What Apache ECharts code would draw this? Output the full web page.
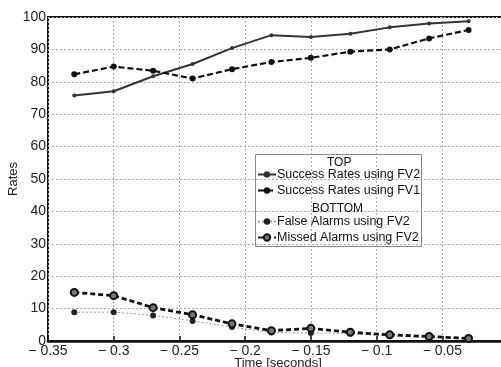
<!DOCTYPE html>
<html>
<head>
<meta charset="utf-8">
<script src="https://cdn.jsdelivr.net/npm/echarts@6/dist/echarts.min.js"></script>
<style>html,body{margin:0;padding:0;background:#fff}#c{width:501px;height:367px}</style>
</head>
<body>
<div id="c"></div>
<script>
var times = [-0.33, -0.30, -0.27, -0.24, -0.21, -0.18, -0.15, -0.12, -0.09, -0.06, -0.03];
var successFV2 = [75.8, 77.1, 81.7, 85.5, 90.4, 94.4, 93.8, 94.8, 96.8, 98.0, 98.7];
var successFV1 = [82.3, 84.7, 83.4, 81.0, 83.9, 86.1, 87.4, 89.3, 90.0, 93.4, 96.0];
var falseAlarmsFV2 = [8.9, 8.9, 7.9, 6.2, 4.3, 2.6, 2.5, 2.3, 1.6, 1.1, 0.6];
var missedAlarmsFV2 = [15.0, 14.0, 10.3, 8.1, 5.3, 3.2, 3.9, 2.7, 1.9, 1.4, 0.8];
var xTickLabels = ['\u2212 0.35', '\u2212 0.3', '\u2212 0.25', '\u2212 0.2', '\u2212 0.15', '\u2212 0.1', '\u2212 0.05', '0'];
var yTickLabels = ['0', '10', '20', '30', '40', '50', '60', '70', '80', '90', '100'];
var seriesNames = ['Success Rates using FV2', 'Success Rates using FV1', 'False Alarms using FV2', 'Missed Alarms using FV2'];

function pairs(ys) { return times.map(function (t, i) { return [t, ys[i]]; }); }

var chart = echarts.init(document.getElementById('c'));
var font = 'Liberation Sans, Arial, sans-serif';
chart.setOption({
  animation: false,
  backgroundColor: '#fff',
  textStyle: { fontFamily: font },
  grid: { left: 48, top: 17, width: 460, height: 324, containLabel: false, outerBoundsMode: 'none', show: true, borderColor: '#111', borderWidth: 2 },
  xAxis: {
    type: 'value', min: -0.35, max: 0, interval: 0.05,
    name: 'Time [seconds]', nameLocation: 'middle', nameGap: 16, nameMoveOverlap: false,
    nameTextStyle: { fontSize: 13, color: '#222', fontFamily: font },
    axisLine: { lineStyle: { color: '#111', width: 2.5 } },
    axisTick: { inside: true, length: 5, lineStyle: { color: '#111', width: 1.5 } },
    axisLabel: {
      fontSize: 14, color: '#222', margin: 3,
      formatter: function (v) { return xTickLabels[Math.round((v + 0.35) / 0.05)]; }
    },
    splitLine: { show: true, lineStyle: { color: '#aaa', type: [2, 2], width: 1 } }
  },
  yAxis: {
    type: 'value', min: 0, max: 100, interval: 10,
    name: 'Rates', nameLocation: 'middle', nameGap: 28, nameRotate: 90, nameMoveOverlap: false,
    nameTextStyle: { fontSize: 13, color: '#222', fontFamily: font },
    axisLine: { lineStyle: { color: '#111', width: 2.5 } },
    axisTick: { show: true, inside: true, length: 4, lineStyle: { color: '#111', width: 1.5 } },
    axisLabel: {
      fontSize: 14, color: '#222', margin: 2,
      formatter: function (v) { return yTickLabels[Math.round(v / 10)]; }
    },
    splitLine: { show: true, lineStyle: { color: '#aaa', type: [2, 2], width: 1 } }
  },
  legend: [
    {
      data: [seriesNames[0], seriesNames[1]], orient: 'vertical', left: 257, top: 168,
      itemWidth: 18, itemHeight: 8, itemGap: 3, padding: 0,
      textStyle: { fontSize: 12.5, color: '#111', fontFamily: font, padding: [0, 0, 0, -4] }
    },
    {
      data: [seriesNames[2], seriesNames[3]], orient: 'vertical', left: 257, top: 215,
      itemWidth: 18, itemHeight: 8, itemGap: 3, padding: 0,
      textStyle: { fontSize: 12.5, color: '#111', fontFamily: font, padding: [0, 0, 0, -4] }
    }
  ],
  graphic: [
    { type: 'rect', left: 255, top: 154, shape: { width: 166, height: 92 }, style: { fill: '#fff', stroke: '#888', lineWidth: 1 }, z: 0, zlevel: 0 },
    { type: 'text', left: 327, top: 157, style: { text: 'TOP', fontSize: 12, fill: '#111', fontFamily: font }, z: 100 },
    { type: 'text', left: 312, top: 203, style: { text: 'BOTTOM', fontSize: 12, fill: '#111', fontFamily: font }, z: 100 }
  ],
  series: [
    {
      name: seriesNames[0], type: 'line', data: pairs(successFV2), z: 5,
      symbol: 'circle', symbolSize: 4, itemStyle: { color: '#333' },
      lineStyle: { color: '#333', width: 2 }
    },
    {
      name: seriesNames[1], type: 'line', data: pairs(successFV1), z: 5,
      symbol: 'circle', symbolSize: 6, itemStyle: { color: '#111' },
      lineStyle: { color: '#111', width: 2.2, type: [6, 3] }
    },
    {
      name: seriesNames[2], type: 'line', data: pairs(falseAlarmsFV2), z: 4,
      symbol: 'circle', symbolSize: 6, itemStyle: { color: '#222' },
      lineStyle: { color: '#999', width: 1, type: [2, 2] }
    },
    {
      name: seriesNames[3], type: 'line', data: pairs(missedAlarmsFV2), z: 5,
      symbol: 'circle', symbolSize: 7, itemStyle: { color: '#777', borderColor: '#111', borderWidth: 2 },
      lineStyle: { color: '#111', width: 2.8, type: [5, 3] }
    }
  ]
});
</script>
</body>
</html>
